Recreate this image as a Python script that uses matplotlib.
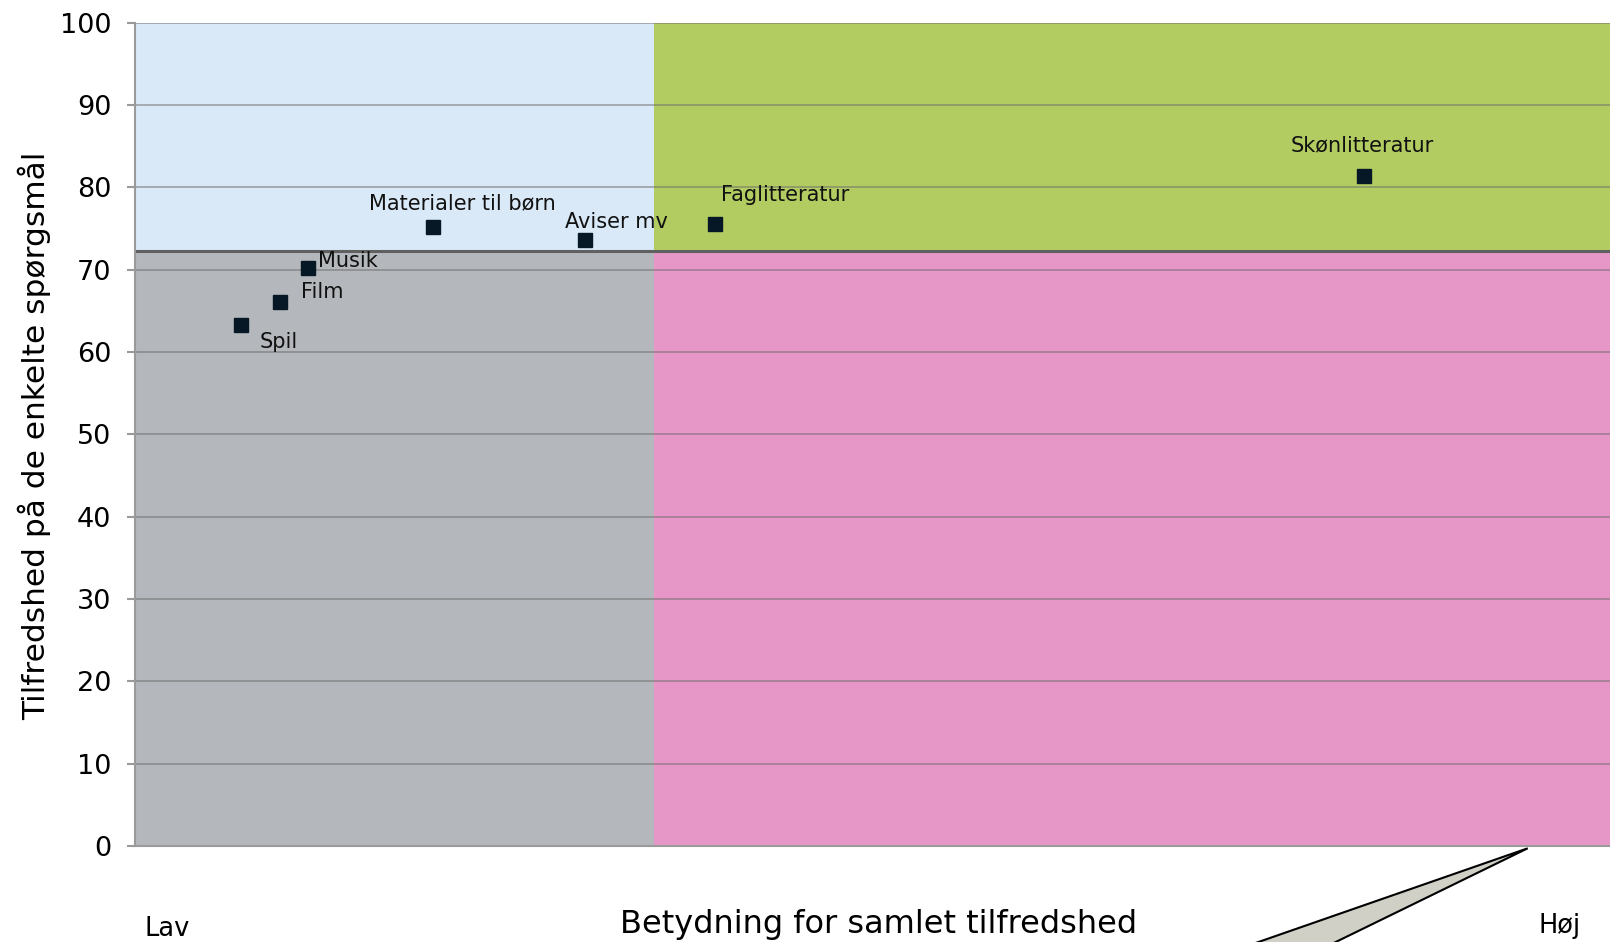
import matplotlib
matplotlib.use("Agg")
import matplotlib.pyplot as plt
from matplotlib.patches import Rectangle, Polygon

# Data
labels = ["Spil", "Film", "Musik", "Materialer til børn", "Aviser mv", "Faglitteratur", "Skønlitteratur"]
importance = [7.2, 9.8, 11.7, 20.2, 30.5, 39.3, 83.3]
satisfaction = [63.3, 66.1, 70.2, 75.2, 73.6, 75.6, 81.4]
x_split = 35.2
y_split = 72.3
yticks = [0, 10, 20, 30, 40, 50, 60, 70, 80, 90, 100]

# label offsets in pixels (dx, dy) relative to the marker
label_offsets = [(18, -17), (21, 10), (10, 7), (-64, 24), (-20, 18), (6, 29), (-73, 31)]

W, H = 1610, 942
fig = plt.figure(figsize=(W / 100, H / 100), dpi=100)
ax = fig.add_axes([135 / W, 1 - 846 / H, 1 - 135 / W, (846 - 22.7) / H])
ax.set_xlim(0, 100)
ax.set_ylim(0, 100)

# Quadrants
ax.add_patch(Rectangle((0, y_split), x_split, 100 - y_split, color="#dae9f8", zorder=0, lw=0))
ax.add_patch(Rectangle((x_split, y_split), 100 - x_split, 100 - y_split, color="#b3cc62", zorder=0, lw=0))
ax.add_patch(Rectangle((0, 0), x_split, y_split, color="#b4b7bb", zorder=0, lw=0))
ax.add_patch(Rectangle((x_split, 0), 100 - x_split, y_split, color="#e697c7", zorder=0, lw=0))

# Gridlines
for t in yticks[1:]:
    ax.axhline(t, color="#6e6e6e", alpha=0.55, lw=1.3, zorder=1)
ax.axhline(y_split, color="#606060", lw=2.2, zorder=2)

# Points
ax.plot(importance, satisfaction, linestyle="none", marker="s", markersize=10,
        color="#061826", zorder=5)
for lab, x, y, (dx, dy) in zip(labels, importance, satisfaction, label_offsets):
    ax.annotate(lab, (x, y), xytext=(dx * 0.72, dy * 0.72), textcoords="offset points",
                fontsize=15, color="#111111", ha="left", va="center", zorder=6)

# Axes styling
for s in ["top", "right"]:
    ax.spines[s].set_visible(False)
ax.spines["left"].set_color("#9a9a9a")
ax.spines["left"].set_linewidth(1.5)
ax.spines["bottom"].set_color("#9a9a9a")
ax.spines["bottom"].set_linewidth(1.5)
ax.set_yticks(yticks)
ax.set_yticklabels([str(t) for t in yticks])
ax.tick_params(axis="y", length=6, width=1.5, color="#9a9a9a", labelsize=19.5, pad=11)
ax.set_xticks([])

fig.text(34 / W, 1 - 436 / H, "Tilfredshed på de enkelte spørgsmål", fontsize=22.5,
         rotation=90, ha="center", va="center")

fig.text(879 / W, 1 - 925 / H, "Betydning for samlet tilfredshed", fontsize=23,
         ha="center", va="center")
fig.text(144 / W, 1 - 929 / H, "Lav", fontsize=18.5, ha="left", va="center")
fig.text(1538 / W, 1 - 926 / H, "Høj", fontsize=18.5, ha="left", va="center")

# callout triangle (decoration)
tri = Polygon([(1527.7 / W, 1 - 848.3 / H), (1155 / W, 1 - 978 / H), (1262 / W, 1 - 978 / H)],
              closed=True, transform=fig.transFigure, facecolor="#d0d0c6",
              edgecolor="black", lw=1.5, zorder=10)
fig.patches.append(tri)

fig.savefig("out.png", dpi=100)
